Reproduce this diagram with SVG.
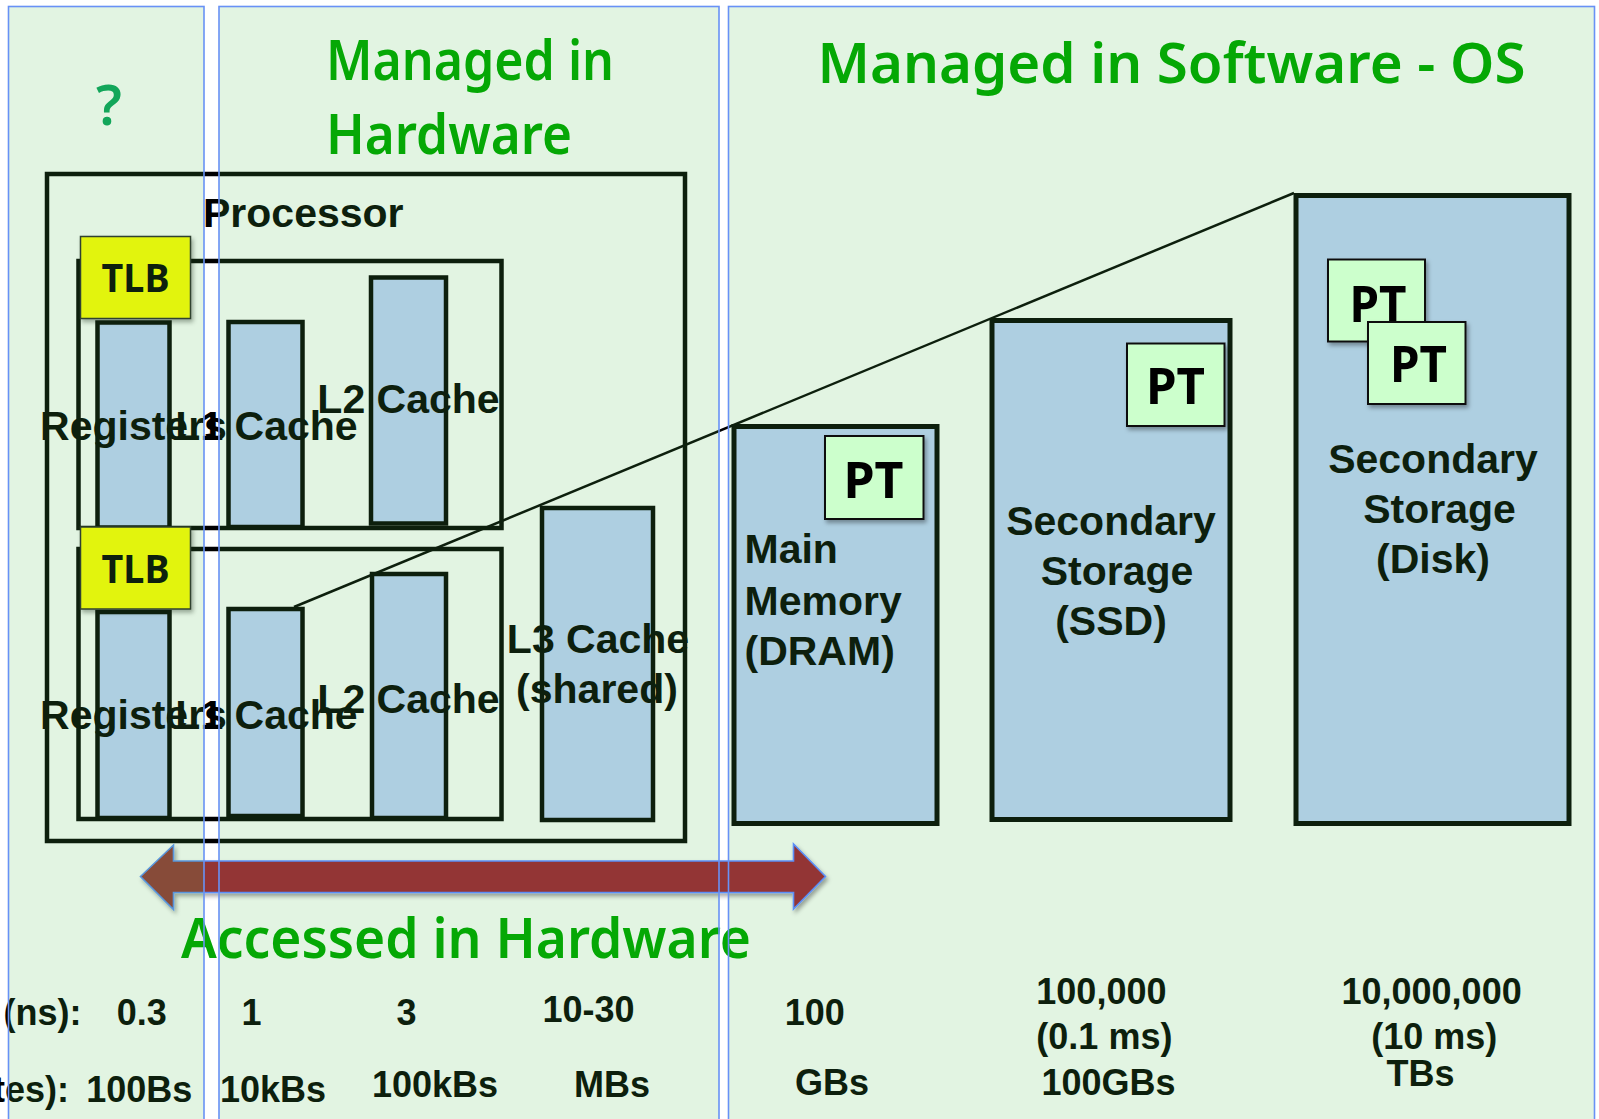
<svg xmlns="http://www.w3.org/2000/svg" width="1599" height="1119" viewBox="0 0 1599 1119">
<defs>
<style>
.frame{fill:none;stroke:#000;stroke-width:4.5}
.box{fill:#c1d3fe;stroke:#000;stroke-width:4.5}
.mem{fill:#c1d3fe;stroke:#000;stroke-width:5}
.lbl{font-family:"Liberation Sans",Arial,sans-serif;font-weight:bold;font-size:41px;fill:#000}
.num{font-family:"Liberation Sans",Arial,sans-serif;font-weight:bold;font-size:36px;fill:#000}
.mid{text-anchor:middle}
.end{text-anchor:end}
.comic{font-family:"Noto Sans",sans-serif}
.title{font-size:56px;font-weight:600;fill:#05a805}
.tlb{fill:#ffff00;stroke:#2a2a2a;stroke-width:1.5}
.pt{fill:#ccffcc;stroke:#111;stroke-width:2}
.tag{font-weight:bold;fill:#000}
.panel{fill:#4fbc4f;fill-opacity:0.165}
.pedge{fill:none;stroke:#6891f6;stroke-width:1.6}
.conn{stroke:#000;stroke-width:2.5;fill:none}
</style>
<filter id="sh" x="-20%" y="-20%" width="150%" height="150%">
<feDropShadow dx="2" dy="3" stdDeviation="2" flood-color="#000" flood-opacity="0.35"/>
</filter>
</defs>
<rect x="0" y="0" width="1599" height="1119" fill="#ffffff"/>

<g id="processor">
<rect class="frame" x="47" y="174" width="638" height="667"/>
<text class="lbl" x="203" y="227">Processor</text>
</g>

<g id="core1">
<rect class="frame" x="78.5" y="261" width="423" height="267"/>
<rect class="box" x="97.5" y="322.5" width="72" height="205"/>
<rect class="box" x="228.5" y="322" width="74" height="205"/>
<rect class="box" x="371" y="277.5" width="75" height="246"/>
<text class="lbl mid" x="133.5" y="440">Registers</text>
<text class="lbl mid" x="266.5" y="440">L1 Cache</text>
<text class="lbl mid" x="408.5" y="413">L2 Cache</text>
</g>
<g id="tlb1">
<rect class="tlb" x="80.5" y="236.5" width="110" height="82" filter="url(#sh)"/>
<text class="comic tag mid" x="135.5" y="291.5" font-size="40" textLength="68" lengthAdjust="spacingAndGlyphs">TLB</text>
</g>

<g id="core2">
<rect class="frame" x="78.5" y="549" width="423" height="270"/>
<rect class="box" x="97.5" y="612" width="72" height="206"/>
<rect class="box" x="228.5" y="609" width="74" height="207"/>
<rect class="box" x="372" y="574" width="74" height="244"/>
<text class="lbl mid" x="133.5" y="728.5">Registers</text>
<text class="lbl mid" x="266.5" y="728.5">L1 Cache</text>
<text class="lbl mid" x="408.5" y="713">L2 Cache</text>
</g>
<g id="tlb2">
<rect class="tlb" x="80.5" y="527" width="110" height="82" filter="url(#sh)"/>
<text class="comic tag mid" x="135.5" y="582.5" font-size="40" textLength="68" lengthAdjust="spacingAndGlyphs">TLB</text>
</g>

<g id="l3">
<rect class="box" x="542" y="508" width="111" height="312"/>
<text class="lbl mid" x="598" y="653">L3 Cache</text>
<text class="lbl mid" x="597" y="703">(shared)</text>
</g>

<g id="dram">
<rect class="mem" x="734" y="426.5" width="203" height="397"/>
<text class="lbl" x="744.5" y="563">Main</text>
<text class="lbl" x="744.5" y="615">Memory</text>
<text class="lbl" x="744.5" y="665">(DRAM)</text>
</g>

<g id="ssd">
<rect class="mem" x="992" y="320.5" width="238" height="499"/>
<text class="lbl mid" x="1111" y="535">Secondary</text>
<text class="lbl mid" x="1117" y="585">Storage</text>
<text class="lbl mid" x="1111" y="635">(SSD)</text>
</g>

<g id="disk">
<rect class="mem" x="1296" y="195.5" width="273" height="628"/>
<text class="lbl mid" x="1433" y="473">Secondary</text>
<text class="lbl mid" x="1439.5" y="523">Storage</text>
<text class="lbl mid" x="1433" y="573">(Disk)</text>
</g>

<g id="metrics">
<text class="num end" x="81.6" y="1025">(ns):</text>
<text class="num mid" x="141.8" y="1025">0.3</text>
<text class="num mid" x="251.5" y="1025">1</text>
<text class="num mid" x="406.4" y="1025">3</text>
<text class="num mid" x="588.5" y="1021.7">10-30</text>
<text class="num mid" x="814.7" y="1025">100</text>
<text class="num mid" x="1101.4" y="1004">100,000</text>
<text class="num mid" x="1104.4" y="1049">(0.1 ms)</text>
<text class="num mid" x="1431.6" y="1004">10,000,000</text>
<text class="num mid" x="1434.2" y="1049">(10 ms)</text>
<text class="num end" x="68.9" y="1101.7">tes):</text>
<text class="num mid" x="139.3" y="1101.7">100Bs</text>
<text class="num mid" x="273" y="1101.7">10kBs</text>
<text class="num mid" x="435" y="1096.7">100kBs</text>
<text class="num mid" x="612" y="1096.7">MBs</text>
<text class="num mid" x="832" y="1095">GBs</text>
<text class="num mid" x="1108.6" y="1095">100GBs</text>
<text class="num mid" x="1420.6" y="1086">TBs</text>
</g>

<g id="connectors">
<line class="conn" x1="294" y1="607" x2="1294" y2="193"/>
</g>

<g id="panel-hw">
<rect class="panel" x="219" y="6.5" width="500" height="1120"/>
</g>
<g id="panel-sw">
<rect class="panel" x="728.5" y="6.5" width="866" height="1120"/>
</g>

<g id="arrow-access">
<polygon points="140.5,876.5 173.5,845 173.5,861 793.5,861 793.5,844 825.5,876.5 793.5,909 793.5,892.5 173.5,892.5 173.5,909.5" fill="#933636" stroke="#5b8ff7" stroke-width="1.6" stroke-linejoin="miter" filter="url(#sh)"/>
</g>

<g id="panel-q">
<rect class="panel" x="8.5" y="6.5" width="195.5" height="1120"/>
</g>

<g id="pt-dram">
<rect class="pt" x="825" y="436" width="98.5" height="83" filter="url(#sh)"/>
<text class="comic tag mid" x="873.5" y="497.5" font-size="50" textLength="60" lengthAdjust="spacingAndGlyphs">PT</text>
</g>
<g id="pt-ssd">
<rect class="pt" x="1127" y="343.5" width="97.5" height="82.5" filter="url(#sh)"/>
<text class="comic tag mid" x="1175.5" y="403.5" font-size="50" textLength="59" lengthAdjust="spacingAndGlyphs">PT</text>
</g>
<g id="pt-disk1">
<rect class="pt" x="1328" y="259.5" width="97" height="82" filter="url(#sh)"/>
<text class="comic tag mid" x="1378" y="321.5" font-size="50" textLength="57" lengthAdjust="spacingAndGlyphs">PT</text>
</g>
<g id="pt-disk2">
<rect class="pt" x="1368" y="322" width="97.5" height="82" filter="url(#sh)"/>
<text class="comic tag mid" x="1418.5" y="381.5" font-size="50" textLength="57" lengthAdjust="spacingAndGlyphs">PT</text>
</g>

<g id="titles">
<text class="comic title" x="96" y="125" style="fill:#12a65a">?</text>
<text class="comic title" x="326" y="80" textLength="288" lengthAdjust="spacingAndGlyphs">Managed in</text>
<text class="comic title" x="326" y="154" textLength="246" lengthAdjust="spacingAndGlyphs">Hardware</text>
<text class="comic title" x="817.5" y="82.5" textLength="708" lengthAdjust="spacingAndGlyphs">Managed in Software - OS</text>
<text class="comic title" x="181" y="958" textLength="570" lengthAdjust="spacingAndGlyphs">Accessed in Hardware</text>
</g>

<g id="panel-edges">
<rect class="pedge" x="8.5" y="6.5" width="195.5" height="1120"/>
<rect class="pedge" x="219" y="6.5" width="500" height="1120"/>
<rect class="pedge" x="728.5" y="6.5" width="866" height="1120"/>
</g>
</svg>
